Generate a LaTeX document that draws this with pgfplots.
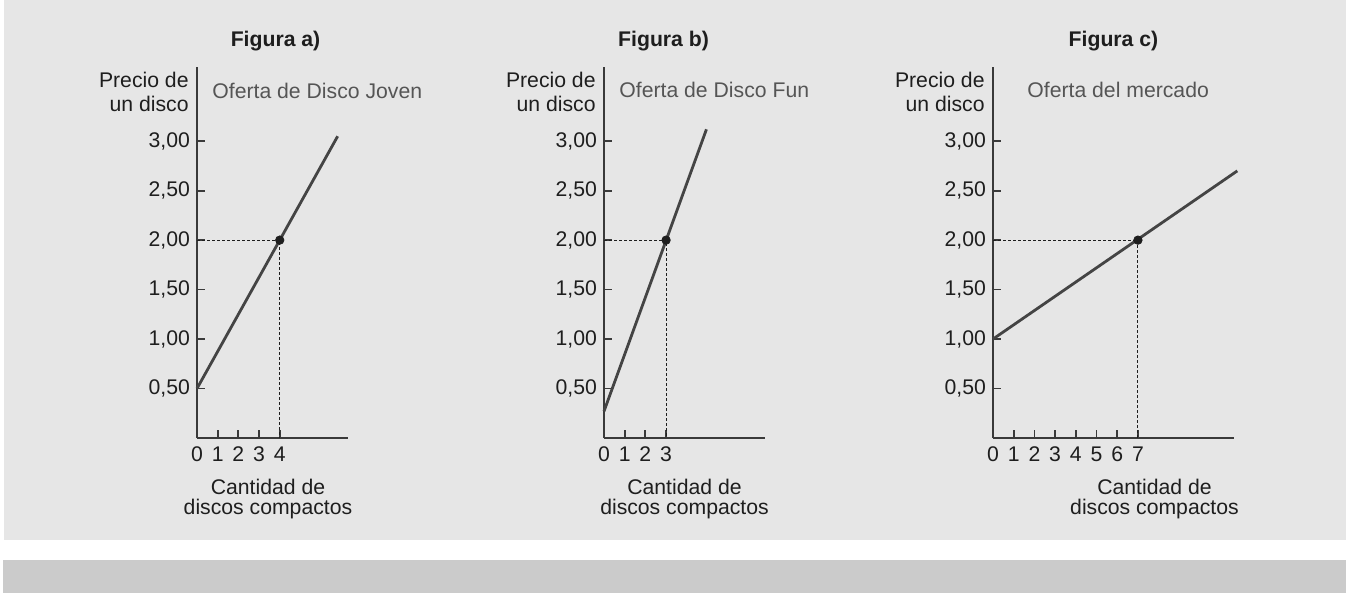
\documentclass[border=0pt]{standalone}
\usepackage{pgfplots}
\pgfplotsset{compat=1.18}
\usepackage{fontspec}
\setmainfont{Liberation Sans}
\definecolor{bgl}{HTML}{E6E6E6}
\definecolor{bgd}{HTML}{CBCBCB}
\definecolor{ln}{HTML}{444444}
\definecolor{ax}{HTML}{3A3A3A}
\definecolor{tx}{HTML}{1E1E1E}
\definecolor{of}{HTML}{555555}
\newcommand{\fs}{\fontsize{10.6}{10}\selectfont}
\pgfplotsset{
 panel/.style={
  scale only axis, axis lines=left, axis line style={-, ax, line width=0.9pt},
  xmin=0, ymin=0, ymax=3.75, height=185.5pt,
  tick align=inside, major tick length=4pt, tick style={ax, line width=0.9pt},
  ytick={0.5,1,1.5,2,2.5,3},
  yticklabels={{0,50},{1,00},{1,50},{2,00},{2,50},{3,00}},
  tick label style={font=\fs, text=tx},
  xticklabel style={yshift=-1pt},
  title style={font=\bfseries\fs, text=tx, anchor=base, yshift=4pt, inner sep=0pt},
  xlabel style={anchor=north, yshift=-20.5pt, inner sep=0pt, align=center, font=\fs, text=tx},
  clip=false,
 },
 supply/.style={ln, line width=1.4pt},
 guide/.style={tx, line width=0.5pt, dash pattern=on 1.5pt off 1pt},
 pt/.style={only marks, mark=*, mark size=2.1pt, tx, mark options={fill=tx}},
}
\newcommand{\ylab}{\node[anchor=north east, inner sep=0pt, align=right, font=\fontsize{10.6}{12}\selectfont, text=tx, xshift=-4pt, yshift=-2.5pt] at (rel axis cs:0,1) {Precio de\\un disco};}
\begin{document}
\begin{tikzpicture}
\path[use as bounding box] (0,0) rectangle (673pt,296.5pt);
\fill[bgl] (2pt,26.5pt) rectangle (673pt,296.5pt);
\fill[bgd] (1.5pt,0pt) rectangle (673pt,16.5pt);

% Figura a
\begin{axis}[panel, at={(98.5pt,77.5pt)}, anchor=south west,
  width=75.5pt, xmax=7.3,
  xtick={0,1,2,3,4}, xticklabels={0,1,2,3,4},
  title={Figura a)}, title style={at={(rel axis cs:0.52,1)}},
  xlabel={Cantidad de\\discos compactos}, xlabel style={at={(rel axis cs:0.47,0)}}]
\addplot[supply] coordinates {(0,0.5) (6.8,3.05)};
\addplot[guide] coordinates {(0,2) (4,2) (4,0)};
\addplot[pt] coordinates {(4,2)};
\ylab
\node[anchor=north west, inner sep=0pt, font=\fs, text=of, xshift=7.5pt, yshift=-8pt] at (rel axis cs:0,1) {Oferta de Disco Joven};
\end{axis}

% Figura b
\begin{axis}[panel, at={(302pt,77.5pt)}, anchor=south west,
  width=80.5pt, xmax=7.78,
  xtick={0,1,2,3}, xticklabels={0,1,2,3},
  title={Figura b)}, title style={at={(rel axis cs:0.37,1)}},
  xlabel={Cantidad de\\discos compactos}, xlabel style={at={(rel axis cs:0.5,0)}}]
\addplot[supply] coordinates {(0,0.27) (4.95,3.12)};
\addplot[guide] coordinates {(0,2) (3,2) (3,0)};
\addplot[pt] coordinates {(3,2)};
\ylab
\node[anchor=north west, inner sep=0pt, font=\fs, text=of, xshift=7.5pt, yshift=-7.5pt] at (rel axis cs:0,1) {Oferta de Disco Fun};
\end{axis}

% Figura c
\begin{axis}[panel, at={(496.5pt,77.5pt)}, anchor=south west,
  width=120.5pt, xmax=11.64,
  xtick={0,1,2,3,4,5,6,7}, xticklabels={0,1,2,3,4,5,6,7},
  title={Figura c)}, title style={at={(rel axis cs:0.5,1)}},
  xlabel={Cantidad de\\discos compactos}, xlabel style={at={(rel axis cs:0.67,0)}}]
\addplot[supply] coordinates {(0,1) (11.8,2.7)};
\addplot[guide] coordinates {(0,2) (7,2) (7,0)};
\addplot[pt] coordinates {(7,2)};
\ylab
\node[anchor=north west, inner sep=0pt, font=\fs, text=of, xshift=17pt, yshift=-7.5pt] at (rel axis cs:0,1) {Oferta del mercado};
\end{axis}
\end{tikzpicture}
\end{document}
